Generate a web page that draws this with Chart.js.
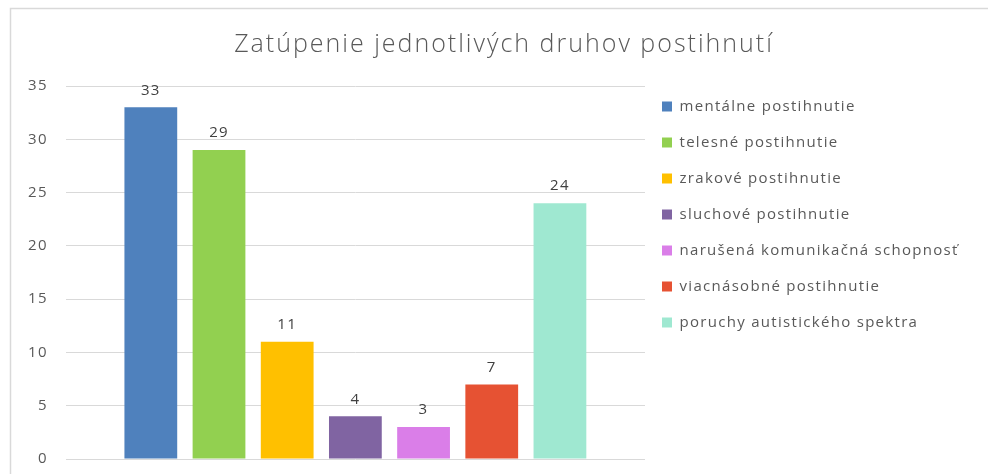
<!DOCTYPE html>
<html>
<head>
<meta charset="utf-8">
<script src="https://cdn.jsdelivr.net/npm/chart.js@4"></script>
<style>
  html, body { margin: 0; padding: 0; background: #fff; }
</style>
</head>
<body>
<canvas id="chart" width="988" height="474"></canvas>
<script>
const titleText = 'Zatúpenie jednotlivých druhov postihnutí';
const seriesNames = [
  'mentálne postihnutie',
  'telesné postihnutie',
  'zrakové postihnutie',
  'sluchové postihnutie',
  'narušená komunikačná schopnosť',
  'viacnásobné postihnutie',
  'poruchy autistického spektra'
];
const seriesValues = [33, 29, 11, 4, 3, 7, 24];
const seriesColors = ['#4f81bd', '#92d050', '#ffc000', '#8064a2', '#da7ee8', '#e65233', '#9fe8d1'];
const yTicks = [0, 5, 10, 15, 20, 25, 30, 35];

const FONT = '"Open Sans", Lato, sans-serif';

// the original is a bit stretched sideways, so add some letter spacing
const spacing = {
  id: 'spacing',
  beforeUpdate(chart) { chart.ctx.letterSpacing = '1.3px'; },
  beforeLayout(chart) {
    chart.ctx.letterSpacing = '1.3px';
    const lg = chart.legend;
    if (lg && !lg._fixed) {
      const fit = lg.fit;
      lg.fit = function () { fit.call(this); this.width = 343; };
      lg._fixed = true;
    }
    const tb = chart.titleBlock;
    if (tb && !tb._fixed) {
      const draw = tb.draw;
      tb.draw = function () {
        const c = this.ctx;
        c.save();
        c.letterSpacing = '2px';
        draw.apply(this, arguments);
        c.restore();
      };
      tb._fixed = true;
    }
  },
  afterLayout(chart) {
    chart.legend.left -= 4;
    chart.legend.top -= 8;
    chart.titleBlock.left += 10;
  },
  beforeDraw(chart) {
    const c = chart.ctx;
    c.letterSpacing = '1.3px';
    // light frame of the chart object
    c.save();
    c.strokeStyle = '#d9d9d9';
    c.lineWidth = 1.5;
    c.beginPath();
    c.moveTo(10.5, 474);
    c.lineTo(10.5, 8.5);
    c.lineTo(988, 8.5);
    c.stroke();
    c.restore();
  }
};

// value labels above each bar
const valueLabels = {
  id: 'valueLabels',
  afterDatasetsDraw(chart) {
    const c = chart.ctx;
    c.save();
    c.font = '15px ' + FONT;
    c.fillStyle = '#404040';
    c.textAlign = 'center';
    c.textBaseline = 'middle';
    chart.data.datasets.forEach((ds, i) => {
      const bar = chart.getDatasetMeta(i).data[0];
      c.fillText(String(ds.data[0]), bar.x, bar.y - 17);
    });
    c.restore();
  }
};

const ctx = document.getElementById('chart').getContext('2d');

new Chart(ctx, {
  type: 'bar',
  data: {
    labels: [''],
    datasets: seriesNames.map((name, i) => ({
      label: name,
      data: [seriesValues[i]],
      backgroundColor: seriesColors[i],
      categoryPercentage: 0.824,
      barPercentage: 0.774
    }))
  },
  options: {
    responsive: false,
    animation: false,
    layout: { padding: { left: 10, right: 0, top: 0, bottom: 15 } },
    plugins: {
      title: {
        display: true,
        text: titleText,
        color: '#595959',
        font: { family: FONT, size: 25, weight: '300' },
        padding: { top: 30, bottom: 26 }
      },
      legend: {
        position: 'right',
        align: 'start',
        fullSize: false,
        labels: {
          color: '#595959',
          font: { family: FONT, size: 15 },
          boxWidth: 10,
          boxHeight: 10,
          padding: 21
        }
      },
      tooltip: { enabled: false }
    },
    scales: {
      x: { display: false },
      y: {
        min: 0,
        max: 35,
        afterBuildTicks(axis) { axis.ticks = yTicks.map(v => ({ value: v })); },
        afterFit(axis) { axis.paddingBottom = 0; },
        ticks: { color: '#595959', font: { family: FONT, size: 15 }, padding: 18 },
        grid: { color: '#d9d9d9', drawTicks: false },
        border: { display: false }
      }
    }
  },
  plugins: [spacing, valueLabels]
});
</script>
</body>
</html>
